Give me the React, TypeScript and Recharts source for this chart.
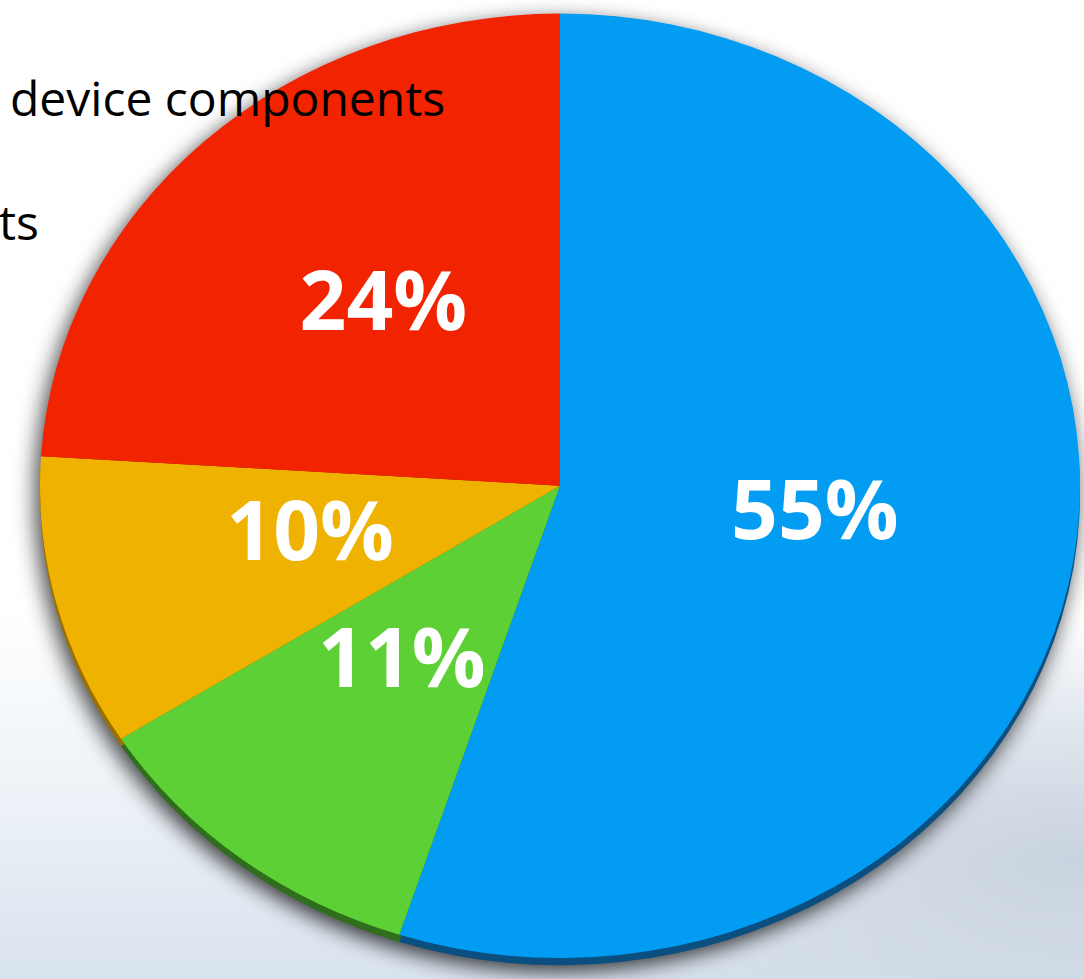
import React from "react";
import { Cell, Pie, PieChart } from "recharts";

// slice order runs clockwise from 12 o'clock
const categories = ["Blue share", "Green share", "Yellow share", "Red share"];
const shares = [55, 11, 10, 24];
const legendLines = ["device components", "ts"];

const colors = ["#029cf3", "#5cd034", "#f0b200", "#f22300"];
const rimColors = ["#0b4f80", "#2f6e1c", "#9a7000", "#9a1800"];

const data = categories.map((name, i) => ({ name, value: shares[i] }));

const W = 1084;
const H = 979;
const SY = 0.908; // slight tilt: the pie is a bit flatter than it is wide
const CHART_H = 1100;
const CX = 560;
const CY = 535;
const R = 520;
const RAD = Math.PI / 180;

type LabelProps = { cx: number; cy: number; midAngle: number; value: number };

function renderLabel({ cx, cy, midAngle, value }: LabelProps) {
  const x = cx + 258 * Math.cos(-midAngle * RAD);
  const y = cy + (235 * Math.sin(-midAngle * RAD) - 16) / SY;
  return (
    <text
      transform={`translate(${x},${y}) scale(1,${1 / SY})`}
      x={0}
      y={0}
      fill="#ffffff"
      textAnchor="middle"
      dominantBaseline="central"
      fontFamily="'Open Sans', 'Noto Sans', sans-serif"
      fontWeight={700}
      fontSize={82}
    >
      {`${value}%`}
    </text>
  );
}

export default function App() {
  return (
    <div
      style={{
        position: "fixed",
        left: 0,
        top: 0,
        width: W,
        height: H,
        overflow: "hidden",
        background:
          "radial-gradient(ellipse 60% 25% at 100% 88%, #c9d3df 0%, rgba(220,228,238,0) 100%), linear-gradient(to bottom, #ffffff 0%, #ffffff 62%, #eef3f8 80%, #d9e3ee 100%)",
      }}
    >
      <div
        style={{
          position: "absolute",
          left: 0,
          top: 0,
          width: W,
          height: CHART_H,
          transform: `scaleY(${SY})`,
          transformOrigin: "top left",
          filter: "drop-shadow(-4px 7px 11px rgba(0,0,0,0.75))",
        }}
      >
        <PieChart width={W} height={CHART_H} margin={{ top: 0, right: 0, bottom: 0, left: 0 }}>
          <Pie
            data={data}
            dataKey="value"
            cx={CX}
            cy={CY + 8}
            outerRadius={R}
            startAngle={90}
            endAngle={-270}
            stroke="none"
            isAnimationActive={false}
          >
            {data.map((d, i) => (
              <Cell key={d.name} fill={rimColors[i]} />
            ))}
          </Pie>
          <Pie
            data={data}
            dataKey="value"
            cx={CX}
            cy={CY}
            outerRadius={R}
            startAngle={90}
            endAngle={-270}
            stroke="none"
            label={renderLabel}
            labelLine={false}
            isAnimationActive={false}
          >
            {data.map((d, i) => (
              <Cell key={d.name} fill={colors[i]} />
            ))}
          </Pie>
        </PieChart>
      </div>
      {legendLines.map((t, i) => (
        <div
          key={t}
          style={{
            position: "absolute",
            left: i === 0 ? 10 : -1,
            top: 66 + i * 124,
            fontFamily: "'Open Sans', 'Noto Sans', sans-serif",
            fontSize: 48,
            color: "#000",
            whiteSpace: "nowrap",
            lineHeight: "64px",
          }}
        >
          {t}
        </div>
      ))}
    </div>
  );
}
